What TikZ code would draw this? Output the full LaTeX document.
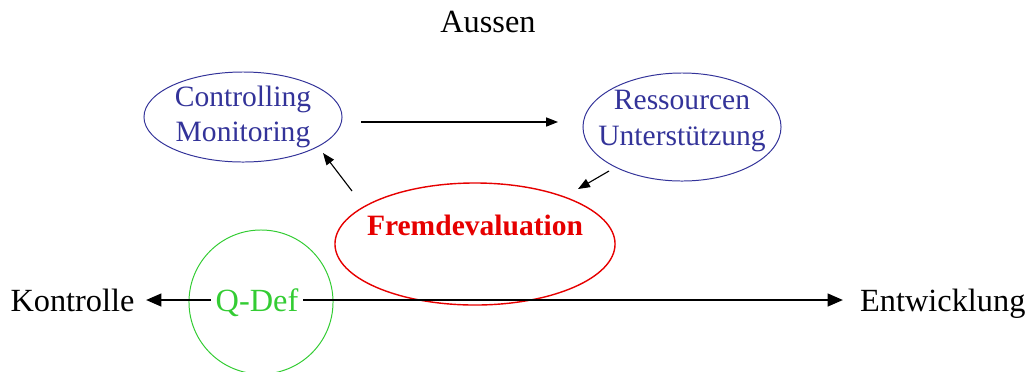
\documentclass[tikz,border=0pt]{standalone}
\usepackage{fontspec}
\setmainfont{Liberation Serif}
\usetikzlibrary{shapes.geometric,arrows.meta}

\definecolor{evblue}{RGB}{51,51,153}
\definecolor{evred}{RGB}{230,0,0}
\definecolor{evgreen}{RGB}{51,204,51}

\tikzset{
  bigfont/.style={font=\fontsize{23}{25}\selectfont},
  axislabel/.style={bigfont, text height=16pt, text depth=0pt},
  blueoval/.style={ellipse, draw=evblue, line width=0.7pt, inner sep=0pt},
  bluetext/.style={font=\fontsize{21}{25}\selectfont, text=evblue, align=center},
  thinarrow/.style={-{Triangle[length=8.5pt,width=6.5pt]}, line width=0.8pt},
  axisarrow/.style={-{Triangle[length=11pt,width=9pt]}, line width=1.8pt},
}

\begin{document}
\begin{tikzpicture}[x=0.025cm, y=-0.025cm]
\useasboundingbox (0,0) rectangle (1029,371);

% top label
\node[bigfont] (aussen) at (488,22) {Aussen};

% the two blue ovals
\node[blueoval, minimum width=4.95cm, minimum height=2.25cm] (ctrl) at (243,117) {};
\node[bluetext] (ctrltext) at (243,117) {Controlling\\Monitoring};
\node[blueoval, minimum width=4.95cm, minimum height=2.7cm] (ress) at (682,127) {};
\node[bluetext] (resstext) at (682,121) {Ressourcen\\Unterstützung};

% red oval
\node[ellipse, draw=evred, line width=1pt, minimum width=7cm, minimum height=3.05cm] (fremd) at (475,244) {};
\node[font=\fontsize{21}{25}\selectfont\bfseries, text=evred] (fremdtext) at (475,225) {Fremdevaluation};

% green circle
\node[circle, draw=evgreen, line width=0.7pt, minimum size=3.6cm] (qring) at (261,302) {};
\node[axislabel, text=evgreen] (qdef) at (257,300) {Q-Def};

% axis ends
\node[axislabel, anchor=east, inner xsep=8pt] (kontr) at (146,300) {Kontrolle};
\node[axislabel, anchor=west, inner xsep=12pt] (entw) at (843,300) {Entwicklung};

% arrow ends near the ovals
\coordinate (ctrl-out) at (361,122);
\coordinate (ress-in) at (558,122);
\coordinate (ress-out) at (609,171);
\coordinate (fremd-in) at (578,189);
\coordinate (fremd-out) at (352,191);
\coordinate (ctrl-in) at (323,153);

\draw[thinarrow] (ctrl-out) -- (ress-in);
\draw[thinarrow] (ress-out) -- (fremd-in);
\draw[thinarrow] (fremd-out) -- (ctrl-in);

\draw[axisarrow] (qdef.west) -- (kontr.east);
\draw[axisarrow] (qdef.east) -- (entw.west);
\end{tikzpicture}
\end{document}
